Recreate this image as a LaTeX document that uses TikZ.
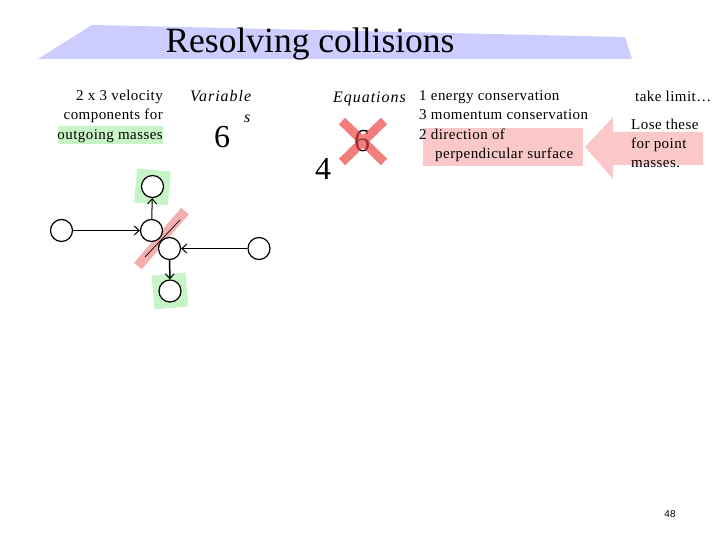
\documentclass[tikz,border=0pt]{standalone}
\usepackage{fontspec}
\setmainfont{Liberation Serif}
\newfontfamily\pagefont{Liberation Sans}
\usetikzlibrary{arrows.meta}
\definecolor{banner}{RGB}{204,204,255}
\definecolor{hlgreen}{RGB}{200,245,200}
\definecolor{hlpink}{RGB}{250,200,200}
\definecolor{slashpink}{RGB}{245,175,175}
\definecolor{xred}{RGB}{235,70,70}
\begin{document}
\begin{tikzpicture}[x=1pt,y=-1pt,
  body/.style={inner sep=0pt,font=\fontsize{15}{19}\selectfont\addfontfeatures{LetterSpace=3}},
  ital/.style={inner sep=0pt,font=\fontsize{16}{19}\selectfont\itshape\addfontfeatures{LetterSpace=6}},
  bignum/.style={inner sep=0pt,font=\fontsize{32}{36}\selectfont},
  ball/.style={circle,draw=black,line width=1.2pt,fill=white,minimum size=22pt,inner sep=0pt},
  mv/.style={-{Straight Barb[length=5pt,width=9pt,line width=1pt]},line width=1pt},
  greenbox/.style={fill=hlgreen,minimum size=34pt,inner sep=0pt}]
\useasboundingbox (0,0) rectangle (720,540);
% title banner
\fill[banner] (38,59) -- (92,25) -- (625,37) -- (632,59) -- cycle;
\node[inner sep=0pt,font=\fontsize{35.5}{40}\selectfont,anchor=base] (title) at (310,53) {Resolving collisions};
% left text
\fill[hlgreen] (58,126) rectangle (163,144);
\node[body,anchor=base east] (v1) at (163,101) {2 x 3 velocity};
\node[body,anchor=base east] (v2) at (163,120) {components for};
\node[body,anchor=base east] (v3) at (163,140) {outgoing masses};
% variables
\node[ital,anchor=base west] (var) at (190,102) {Variable};
\node[ital,anchor=base west] (vars) at (244,123) {s};
\node[bignum,anchor=base] (six1) at (222,148) {6};
% equations
\node[ital,anchor=base west] (eq) at (333,103) {Equations};
\node[bignum,anchor=base] (six2) at (362,152) {6};
\draw[xred,opacity=0.7,line width=9pt] (342,121) -- (384,162) (342,162) -- (384,121);
\node[bignum,anchor=base] (four) at (323,180) {4};
% equation list
\fill[hlpink] (423,128) rectangle (583,166);
\node[body,anchor=base west] (e1) at (419,101) {1 energy conservation};
\node[body,anchor=base west] (e2) at (419,120) {3 momentum conservation};
\node[body,anchor=base west] (e3) at (419,140) {2 direction of};
\node[body,anchor=base west] (e4) at (435,159) {perpendicular surface};
% big arrow
\fill[hlpink] (585,147) -- (613,117) -- (613,132) -- (703,132) -- (703,165) -- (613,165) -- (613,179) -- cycle;
\node[body,anchor=base west] (lim) at (635,102) {take limit\ldots};
\node[body,anchor=base west] (l1) at (631,130) {Lose these};
\node[body,anchor=base west] (l2) at (631,149) {for point};
\node[body,anchor=base west] (l3) at (631,168) {masses.};
% page number
\node[inner sep=0pt,font=\pagefont\fontsize{10}{12}\selectfont] (pg) at (670,514) {48};
% collision diagram
\node[greenbox,rotate=-5] (gtop) at (152.5,187) {};
\node[greenbox,rotate=5] (gbot) at (170,291) {};
\draw[slashpink,line width=10pt] (138,266) -- (185,211);
\draw[line width=0.7pt] (145,257) -- (180,220);
\node[ball] (a) at (61.5,230.5) {};
\node[ball] (b) at (151.5,230.5) {};
\node[ball] (c) at (169.5,248.5) {};
\node[ball] (d) at (259,248.5) {};
\node[ball] (bt) at (152.5,186.5) {};
\node[ball] (cb) at (170,291) {};
\draw[mv] (a) -- (b);
\draw[mv] (d) -- (c);
\draw[mv] (b) -- (bt);
\draw[mv,line width=1.5pt] (c) -- (cb);
\end{tikzpicture}
\end{document}
